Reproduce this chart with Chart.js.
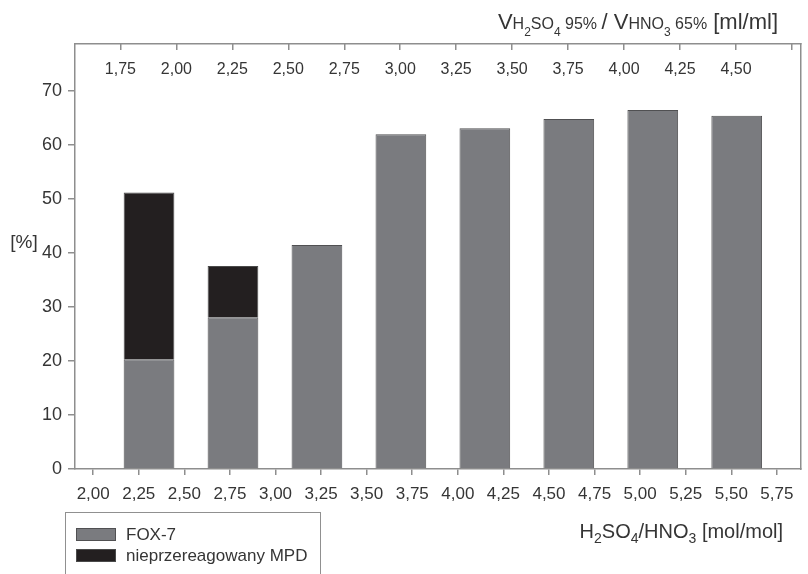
<!DOCTYPE html>
<html>
<head>
<meta charset="utf-8">
<style>
  body { margin: 0; background: #fff; }
  #wrap { width: 808px; height: 574px; }
</style>
</head>
<body>
<div id="wrap"><canvas id="chart" width="808" height="574"></canvas></div>
<script src="https://cdn.jsdelivr.net/npm/chart.js"></script>
<script>
// H2SO4/HNO3 ratio for each bar and the two stacked parts [%]
const ratios = [2.25, 2.75, 3.25, 3.75, 4.25, 4.75, 5.25, 5.75];
const fox7 = [20.3, 28.1, 41.5, 62.0, 63.1, 64.8, 66.5, 65.4];
const mpd = [30.9, 9.5, null, null, null, null, null, null];
const seriesNames = ['FOX-7', 'nieprzereagowany MPD'];

// tick labels
const bottomTickLabels = ['2,00', '2,25', '2,50', '2,75', '3,00', '3,25', '3,50', '3,75',
                          '4,00', '4,25', '4,50', '4,75', '5,00', '5,25', '5,50', '5,75'];
const topTickValues = [1.75, 2.00, 2.25, 2.50, 2.75, 3.00, 3.25, 3.50, 3.75, 4.00, 4.25, 4.50, 4.75];
const topTickLabels = ['1,75', '2,00', '2,25', '2,50', '2,75', '3,00', '3,25', '3,50', '3,75',
                       '4,00', '4,25', '4,50', ''];
const yTickValues = [0, 10, 20, 30, 40, 50, 60, 70];

// axis titles as [text, font size, baseline shift]
const topTitle = [['V', 22], ['H', 16], ['2', 12, 7], ['SO', 16], ['4', 12, 7], [' 95% ', 16],
                  ['/ ', 22], ['V', 22], ['HNO', 16], ['3', 12, 7], [' 65%', 16], [' [ml/ml]', 22]];
const bottomTitle = [['H', 20], ['2', 14, 5], ['SO', 20], ['4', 14, 5], ['/HNO', 20], ['3', 14, 5],
                     [' [mol/mol]', 20]];
const yTitle = '[%]';

const FONT = '"Liberation Sans", Arial, sans-serif';
const TEXT = '#353535';
const AXIS = '#8e8e8e';

function drawRuns(ctx, runs, right, base) {
  let w = 0;
  runs.forEach(r => { ctx.font = r[1] + 'px ' + FONT; w += ctx.measureText(r[0]).width; });
  let x = right - w;
  runs.forEach(r => {
    ctx.font = r[1] + 'px ' + FONT;
    ctx.fillText(r[0], x, base + (r[2] || 0));
    x += ctx.measureText(r[0]).width;
  });
}

const extras = {
  id: 'extras',
  afterDraw(chart) {
    const ctx = chart.ctx;
    ctx.save();
    ctx.fillStyle = TEXT;
    ctx.textAlign = 'left';
    ctx.textBaseline = 'alphabetic';
    drawRuns(ctx, topTitle, 778, 29);
    drawRuns(ctx, bottomTitle, 783, 538);
    ctx.font = '19px ' + FONT;
    ctx.textAlign = 'center';
    ctx.textBaseline = 'middle';
    ctx.fillText(yTitle, 24, 243);

    // legend box
    ctx.strokeStyle = '#909090';
    ctx.lineWidth = 1;
    ctx.strokeRect(65.5, 512.5, 255, 80);
    ctx.textAlign = 'left';
    ctx.font = '17px ' + FONT;
    chart.data.datasets.forEach((ds, i) => {
      const y = 528 + i * 21;
      ctx.fillStyle = ds.backgroundColor;
      ctx.fillRect(76, y, 40, 13);
      ctx.strokeStyle = ds.borderColor;
      ctx.strokeRect(76.5, y + 0.5, 39, 12);
      ctx.fillStyle = TEXT;
      ctx.fillText(ds.label, 126, y + 7);
    });
    ctx.restore();
  }
};

const tickFont = size => ({ family: FONT, size: size });

new Chart(document.getElementById('chart'), {
  type: 'bar',
  data: {
    datasets: [
      {
        label: seriesNames[0],
        data: ratios.map((r, i) => ({ x: r, y: fox7[i] })),
        backgroundColor: '#7a7b7f',
        borderColor: '#505052',
        borderWidth: 1,
        xAxisID: 'xbar',
        yAxisID: 'y'
      },
      {
        label: seriesNames[1],
        data: ratios.map((r, i) => ({ x: r, y: mpd[i] })),
        backgroundColor: '#231f20',
        borderColor: '#4a4a4a',
        borderWidth: 1,
        xAxisID: 'xbar',
        yAxisID: 'y'
      }
    ]
  },
  options: {
    responsive: false,
    animation: false,
    layout: { padding: 0 },
    categoryPercentage: 1,
    barPercentage: 0.604,
    plugins: { legend: { display: false }, tooltip: { enabled: false } },
    scales: {
      xbar: {
        type: 'linear',
        display: false,
        stacked: true,
        offset: false,
        grid: { offset: false },
        min: 1.8092,
        max: 6.1287
      },
      xb: {
        type: 'linear',
        position: 'bottom',
        offset: false,
        min: 1.9003,
        max: 5.8785,
        afterBuildTicks: s => { s.ticks = bottomTickLabels.map(l => ({ value: parseFloat(l.replace(',', '.')) })); },
        afterFit: s => { s.height = 105; },
        ticks: {
          autoSkip: false, maxRotation: 0, padding: 9, color: TEXT, font: tickFont(17),
          callback: (v, i) => bottomTickLabels[i]
        },
        grid: { offset: false, drawOnChartArea: false, tickLength: 6, color: AXIS, lineWidth: 1.5 },
        border: { color: AXIS, width: 1.5 }
      },
      xt: {
        type: 'linear',
        position: 'top',
        offset: false,
        min: 1.5472,
        max: 4.7873,
        afterBuildTicks: s => { s.ticks = topTickValues.map(v => ({ value: v })); },
        afterFit: s => { s.height = 44; },
        ticks: {
          autoSkip: false, maxRotation: 0, mirror: true, padding: 16, color: TEXT, font: tickFont(16),
          callback: (v, i) => topTickLabels[i]
        },
        grid: { offset: false, drawOnChartArea: false, tickLength: -6, color: AXIS, lineWidth: 1.5 },
        border: { color: AXIS, width: 1.5 }
      },
      y: {
        type: 'linear',
        position: 'left',
        stacked: true,
        min: 0,
        max: 78.7,
        afterBuildTicks: s => { s.ticks = yTickValues.map(v => ({ value: v })); },
        afterFit: s => { s.width = 75; },
        ticks: { padding: 6, color: TEXT, font: tickFont(18) },
        grid: { drawOnChartArea: false, tickLength: 7, color: AXIS, lineWidth: 1.5 },
        border: { color: AXIS, width: 1.5 }
      },
      yr: {
        type: 'linear',
        position: 'right',
        min: 0,
        max: 78.7,
        afterFit: s => { s.width = 3; },
        ticks: { display: false },
        grid: { display: false, drawTicks: false },
        border: { color: AXIS, width: 1.5 }
      }
    }
  },
  plugins: [extras]
});
</script>
</body>
</html>
